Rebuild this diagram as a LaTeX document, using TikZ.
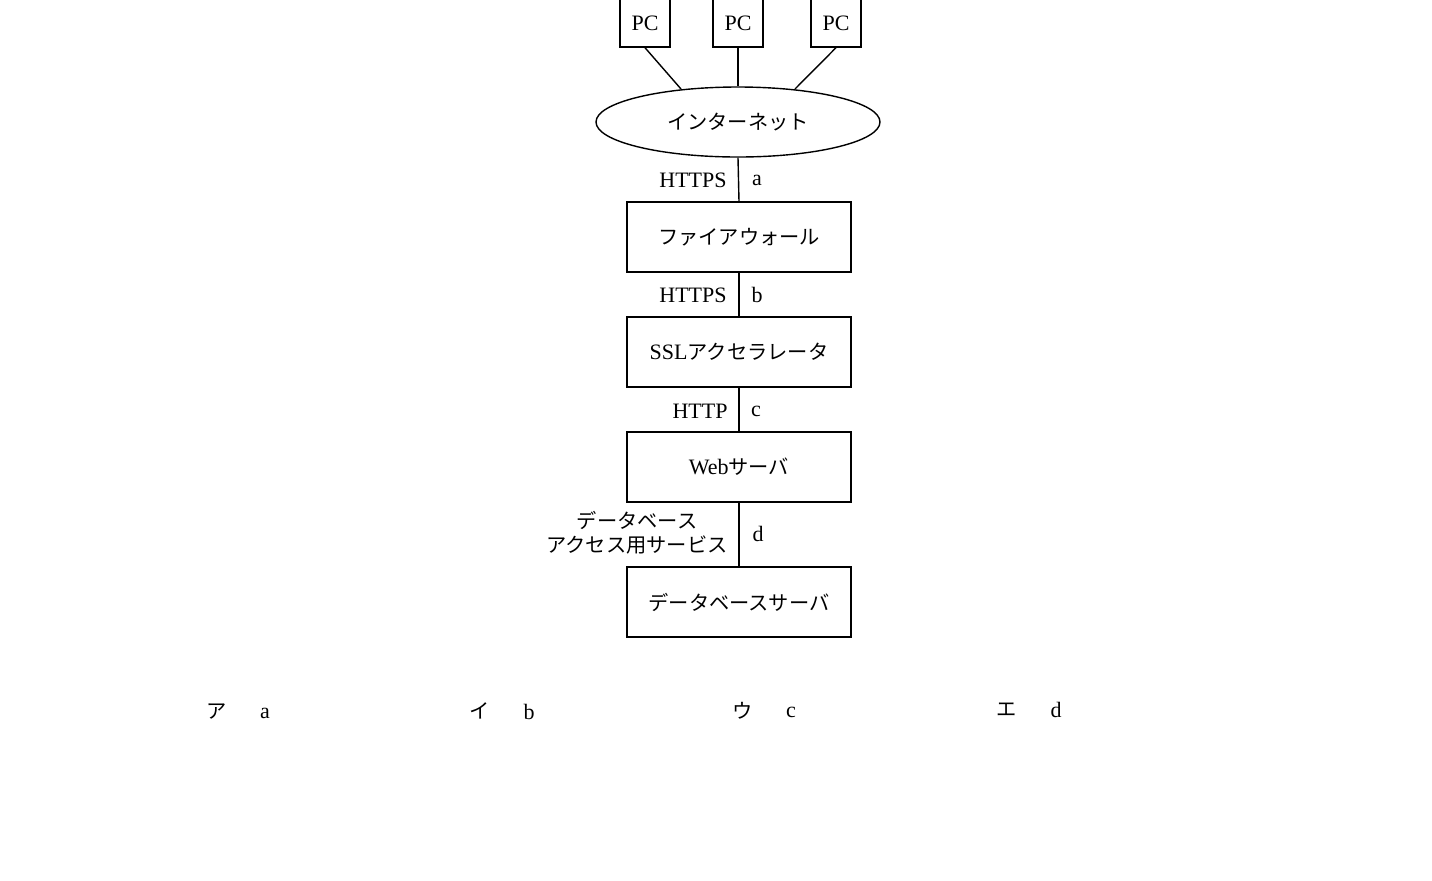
\documentclass[tikz,border=0pt]{standalone}
\usepackage{fontspec}
\setmainfont{Liberation Serif}
\newfontfamily\cjk{Noto Sans CJK JP}[Scale=0.92]
\usetikzlibrary{shapes.geometric}
\begin{document}
\begin{tikzpicture}[x=0.5pt,y=-0.5pt,
  box/.style={draw,line width=0.7pt,minimum width=112pt,minimum height=35pt,inner sep=0pt,font=\fontsize{11}{13}\selectfont},
  pc/.style={draw,line width=0.7pt,minimum width=25pt,minimum height=24pt,inner sep=0pt,font=\fontsize{11}{13}\selectfont},
  lab/.style={font=\fontsize{11}{13}\selectfont,inner sep=1pt},
  ln/.style={line width=0.7pt}]
\useasboundingbox (0,0) rectangle (1432,880);
\node[pc] (p1) at (645,23) {PC};
\node[pc] (p2) at (738,23) {PC};
\node[pc] (p3) at (836,23) {PC};
\node[draw,ellipse,line width=0.7pt,minimum width=142pt,minimum height=35pt,inner sep=0pt,font=\fontsize{11}{13}\selectfont] (net) at (738,122) {\cjk インターネット};
\coordinate (n1) at (681,89); \coordinate (n3) at (795,89);
\draw[ln] (p1.south) -- (n1);
\draw[ln] (p2.south) -- (net.north);
\draw[ln] (p3.south) -- (n3);
\node[box] (fw) at (739,237) {\cjk ファイアウォール};
\node[box] (ssl) at (739,352) {SSL{\cjk アクセラレータ}};
\node[box] (web) at (739,467) {Web{\cjk サーバ}};
\node[box] (db) at (739,602) {\cjk データベースサーバ};
\draw[ln] (net.south) -- (fw.north);
\draw[ln] (fw.south) -- (ssl.north);
\draw[ln] (ssl.south) -- (web.north);
\draw[ln] (web.south) -- (db.north);
\node[lab,anchor=east] (l1) at (729,180) {HTTPS};
\node[lab] (a) at (757,180) {a};
\node[lab,anchor=east] (l2) at (729,295) {HTTPS};
\node[lab] (b) at (757,295) {b};
\node[lab,anchor=east] (l3) at (730,411) {HTTP};
\node[lab] (c) at (756,411) {c};
\node[lab,anchor=east,align=center] (l4) at (730,533) {{\cjk データベース}\\[-1pt]{\cjk アクセス用サービス}};
\node[lab] (d) at (758,534) {d};
\node[lab] (o1) at (217,712) {\cjk ア}; \node[lab] (o1b) at (265,713) {a};
\node[lab] (o2) at (480,711) {\cjk イ}; \node[lab] (o2b) at (529,712) {b};
\node[lab] (o3) at (743,711) {\cjk ウ}; \node[lab] (o3b) at (791,712) {c};
\node[lab] (o4) at (1007,710) {\cjk エ}; \node[lab] (o4b) at (1056,710) {d};
\end{tikzpicture}
\end{document}
